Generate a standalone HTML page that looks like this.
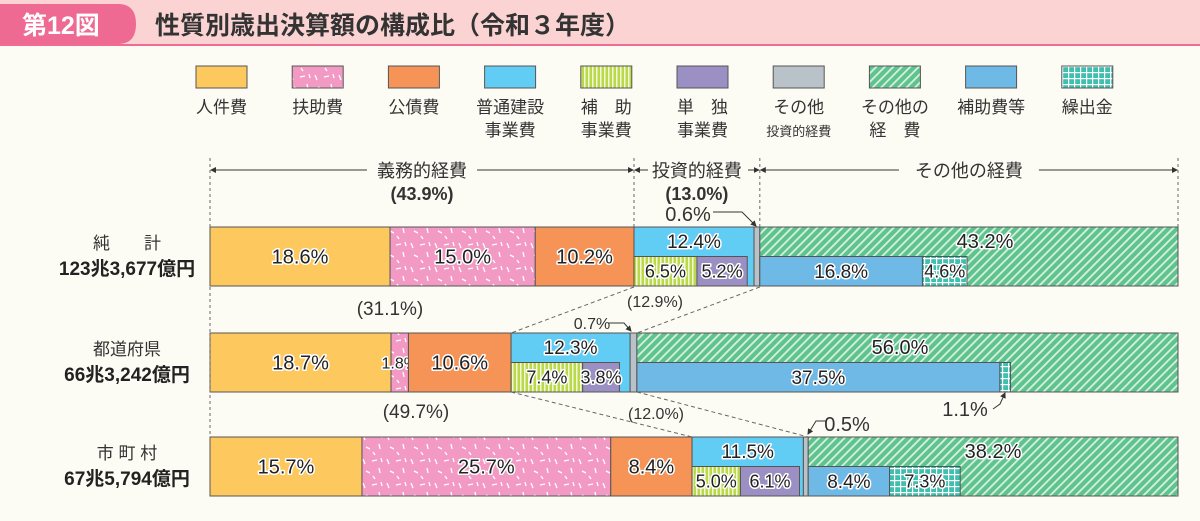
<!DOCTYPE html>
<html><head><meta charset="utf-8"><style>
body{margin:0;background:#fdfcf4;}
svg{display:block;font-family:"Liberation Sans","Noto Sans CJK JP",sans-serif;}
.lbl{paint-order:stroke;stroke:#fff;stroke-width:3px;stroke-linejoin:round;fill:#222;}
</style></head><body>
<svg id="chart" width="1200" height="521" viewBox="0 0 1200 521">
<defs>
<pattern id="pPink" width="24" height="24" patternUnits="userSpaceOnUse"><rect width="24" height="24" fill="#f39ac4"/><g stroke="#fff" stroke-width="1.3"><line x1="3" y1="3" x2="5" y2="8"/><line x1="12" y1="5" x2="17" y2="4"/><line x1="19" y1="12" x2="20" y2="17"/><line x1="6" y1="15" x2="10" y2="17"/><line x1="13" y1="20" x2="15" y2="23"/><line x1="21" y1="2" x2="22" y2="6"/></g></pattern>
<pattern id="pStripe" width="4" height="4" patternUnits="userSpaceOnUse"><rect width="4" height="4" fill="#b9d94a"/><rect width="1.5" height="4" fill="#f3f7d8"/></pattern>
<pattern id="pHatch" width="6" height="6" patternUnits="userSpaceOnUse" patternTransform="rotate(45)"><rect width="6" height="6" fill="#5fc38e"/><rect width="1.8" height="6" fill="#d8f0e0"/></pattern>
<pattern id="pGrid" width="6" height="6" patternUnits="userSpaceOnUse"><rect width="6" height="6" fill="#3fbfae"/><rect width="6" height="1.2" fill="#fff"/><rect width="1.2" height="6" fill="#fff"/></pattern>
<marker id="arr" markerWidth="6" markerHeight="6" refX="5" refY="3" orient="auto"><path d="M0,0L6,3L0,6z" fill="#333"/></marker>
</defs>
<rect x="0" y="0" width="1200" height="46" fill="#fbd3d3"/>
<rect x="0" y="44" width="1200" height="2" fill="#ef6b93"/>
<path d="M0,4H118Q136,4 136,24Q136,44 118,44H0Z" fill="#ee6a93"/>
<text x="22" y="34" font-size="25" font-weight="bold" fill="#fff">第12図</text>
<text x="155" y="34" font-size="25" font-weight="bold" fill="#333">性質別歳出決算額の構成比（令和３年度）</text>
<g id="legend"></g>
<g id="bars"></g>
<g id="annot"></g>
</svg>
<script>
const categories=["人件費","扶助費","公債費","普通建設事業費","補助事業費","単独事業費","その他投資的経費","その他の経費","補助費等","繰出金"];
const rowNames=["純　　計","都道府県","市 町 村"];
const rowTotals=["123兆3,677億円","66兆3,242億円","67兆5,794億円"];
const personnel=[18.6,18.7,15.7];
const assistance=[15.0,1.8,25.7];
const debt=[10.2,10.6,8.4];
const construction=[12.4,12.3,11.5];
const subsidized=[6.5,7.4,5.0];
const independent=[5.2,3.8,6.1];
const otherInvest=[0.6,0.7,0.5];
const otherExp=[43.2,56.0,38.2];
const subsidies=[16.8,37.5,8.4];
const transfers=[4.6,1.1,7.3];
const fills=["#fdc95e","url(#pPink)","#f59456","#62cdf4","url(#pStripe)","#9b8fc4","#b8c2c8","url(#pHatch)","#6fb9e6","url(#pGrid)"];
const NS="http://www.w3.org/2000/svg";
const X0=210,X1=1178,W=X1-X0;
const rowTop=[227,333,437],BH=59;
function sx(p){return X0+p/100*W;}
function el(t,a,p){const e=document.createElementNS(NS,t);for(const k in a)e.setAttribute(k,a[k]);p.appendChild(e);return e;}
const lg=document.getElementById('legend'),bg=document.getElementById('bars'),an=document.getElementById('annot');
const legLines=[["人件費"],["扶助費"],["公債費"],["普通建設","事業費"],["補　助","事業費"],["単　独","事業費"],["その他","投資的経費"],["その他の","経　費"],["補助費等"],["繰出金"]];
categories.forEach((c,i)=>{
  const x=196+i*96.2;
  const r=el('rect',{x:x,y:66,width:51,height:22,fill:fills[i],stroke:'#555','stroke-width':1},lg);
  
  
  legLines[i].forEach((l,j)=>{
    const small=(l.length>4);
    const t=el('text',{x:x+25.5,y:113+j*23,'font-size':small?13:17,'text-anchor':'middle',fill:'#333'},lg);
    t.textContent=l;
    
    
  });
});
function seg(x,y,w,h,f,label,name,fs,lx){
  const r=el('rect',{x:x,y:y,width:Math.max(w,0.5),height:h,fill:f,stroke:'#555','stroke-width':1},bg);
  
  
  if(label!==null){
    const t=el('text',{x:lx!==undefined?lx:x+w/2,y:y+h/2+fs*0.36,'font-size':fs,'text-anchor':'middle',class:'lbl'},bg);
    t.textContent=label;
    
    
  }
}
const otherLabelX=[985,900,993];
for(let r=0;r<3;r++){
  const y=rowTop[r],h2=BH/2;
  const vals=[personnel[r],assistance[r],debt[r],construction[r],otherInvest[r],otherExp[r]];
  let c=0;const st=[];
  vals.forEach(v=>{st.push(c);c+=v;});
  seg(sx(st[0]),y,sx(st[1])-sx(st[0]),BH,fills[0],personnel[r].toFixed(1)+'%','bar-personnel-'+r,20);
  seg(sx(st[1]),y,sx(st[2])-sx(st[1]),BH,fills[1],assistance[r].toFixed(1)+'%','bar-assistance-'+r,assistance[r]<3?16:20);
  seg(sx(st[2]),y,sx(st[3])-sx(st[2]),BH,fills[2],debt[r].toFixed(1)+'%','bar-debt-'+r,20);
  const cx=sx(st[3]);
  seg(cx,y,sx(st[4])-cx,BH,fills[3],null,'bar-construction-'+r,19);
  const ct=el('text',{x:(cx+sx(st[4]))/2,y:y+21,'font-size':19,'text-anchor':'middle',class:'lbl'},bg);
  ct.textContent=construction[r].toFixed(1)+'%';
  
  
  const sw=sx(subsidized[r])-X0,iw=sx(independent[r])-X0;
  seg(cx,y+h2,sw,h2,fills[4],subsidized[r].toFixed(1)+'%','bar-subsidized-'+r,18);
  seg(cx+sw,y+h2,iw,h2,fills[5],independent[r].toFixed(1)+'%','bar-independent-'+r,18);
  seg(sx(st[4]),y,sx(st[5])-sx(st[4]),BH,fills[6],null,'bar-other-invest-'+r,12);
  const ox=sx(st[5]);
  seg(ox,y,X1-ox,BH,fills[7],null,'bar-other-exp-'+r,20);
  const ot=el('text',{x:otherLabelX[r],y:y+21,'font-size':20,'text-anchor':'middle',class:'lbl'},bg);
  ot.textContent=otherExp[r].toFixed(1)+'%';
  
  
  const bw=sx(subsidies[r])-X0,tw=sx(transfers[r])-X0;
  seg(ox,y+h2,bw,h2,fills[8],subsidies[r].toFixed(1)+'%','bar-subsidies-'+r,19);
  seg(ox+bw,y+h2,tw,h2,fills[9],transfers[r]<2?null:transfers[r].toFixed(1)+'%','bar-transfers-'+r,18);
  const n=el('text',{x:127,y:y+22,'font-size':17,'text-anchor':'middle',fill:'#333'},an);
  n.textContent=rowNames[r];
  
  
  const tt=el('text',{x:127,y:y+48,'font-size':19,'text-anchor':'middle',fill:'#222','font-weight':'bold'},an);
  tt.textContent=rowTotals[r];
  
  
}
function tx(x,y,s,fs,name,bold){const t=el('text',{x:x,y:y,'font-size':fs,'text-anchor':'middle',fill:'#333'},an);if(bold)t.setAttribute('font-weight','bold');t.textContent=s;return t;}
const bOb=sx(personnel[0]+assistance[0]+debt[0]),bInv=sx(personnel[0]+assistance[0]+debt[0]+construction[0]+otherInvest[0]);
[X0,bOb,bInv,X1].forEach(x=>el('line',{x1:x,y1:158,x2:x,y2:227,stroke:'#666','stroke-dasharray':'3,3'},an));
el('line',{x1:X0,y1:287,x2:X0,y2:437,stroke:'#666','stroke-dasharray':'3,3'},an);
function brk(a,b,w){const m=(a+b)/2;el('line',{x1:m-w,y1:170,x2:a+1,y2:170,stroke:'#333','marker-end':'url(#arr)'},an);el('line',{x1:m+w,y1:170,x2:b-1,y2:170,stroke:'#333','marker-end':'url(#arr)'},an);}
brk(X0,bOb,55);brk(bOb,bInv,0);brk(bInv,X1,70);
el('rect',{x:648,y:160,width:100,height:20,fill:'#fdfcf4'},an);
tx((X0+bOb)/2,177,'義務的経費',18,'mandatory-bracket-label');
tx((X0+bOb)/2,200,'(43.9%)',18,'mandatory-pct',true);
tx((bOb+bInv)/2,177,'投資的経費',18,'investment-bracket-label');
tx((bOb+bInv)/2,200,'(13.0%)',18,'investment-pct',true);
tx((bInv+X1)/2,177,'その他の経費',18,'other-bracket-label');
function dash(x1,y1,x2,y2){el('line',{x1:x1,y1:y1,x2:x2,y2:y2,stroke:'#666','stroke-dasharray':'4,3'},an);}
function rowX(r,n){const a=[personnel[r],assistance[r],debt[r],construction[r],otherInvest[r]];let s=0;for(let i=0;i<n;i++)s+=a[i];return sx(s);}
dash(rowX(0,3),287,rowX(1,3),333);dash(rowX(0,5),287,rowX(1,5),333);
dash(rowX(1,3),392,rowX(2,3),437);dash(rowX(1,5),392,rowX(2,5),437);
tx(390,315,'(31.1%)',19,'pref-mandatory-pct');
tx(655,307,'(12.9%)',16,'pref-investment-pct');
tx(592,329,'0.7%',16,'pref-other-invest-label');
el('path',{d:'M608,323H624L631,331',fill:'none',stroke:'#333','marker-end':'url(#arr)'},an);
tx(416,418,'(49.7%)',19,'muni-mandatory-pct');
tx(656,419,'(12.0%)',16,'muni-investment-pct');
tx(688,221,'0.6%',20,'total-other-invest-label');
el('path',{d:'M713,212H742L756,226',fill:'none',stroke:'#333','marker-end':'url(#arr)'},an);
tx(847,431,'0.5%',20,'muni-other-invest-label');
el('path',{d:'M826,421H816L808,434',fill:'none',stroke:'#333','marker-end':'url(#arr)'},an);
tx(965,416,'1.1%',20,'pref-transfers-label');
el('path',{d:'M993,409L1000,404L1005,393',fill:'none',stroke:'#333','marker-end':'url(#arr)'},an);
</script>
</body></html>
